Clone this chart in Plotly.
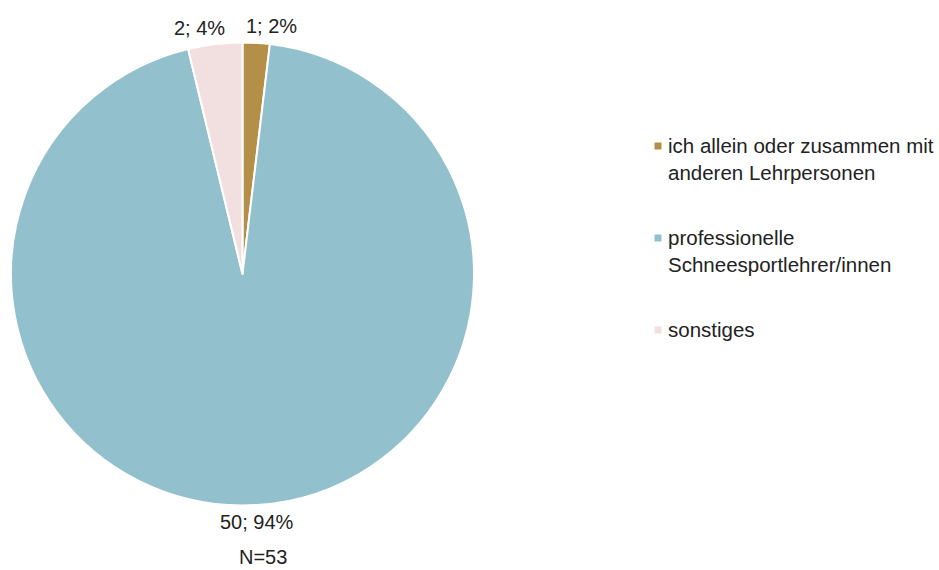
import math
import plotly.graph_objects as go

# Wer leitet den Schneesportunterricht?
categories = [
    "ich allein oder zusammen mit<br>anderen Lehrpersonen",
    "professionelle<br>Schneesportlehrer/innen",
    "sonstiges",
]
counts = [1, 50, 2]
colors = ["#B38F47", "#92C0CC", "#F2E0E0"]
total_label = "N=53"

W, H = 939, 570
FONT = "Liberation Sans, Arial, sans-serif"
TEXT_COLOR = "#222222"
FS = 20

# pie placement in pixels
cx, cy, r = 242.5, 274.0, 231.5
label_r = 248     # radius at which the value labels are centred
label_sep = 72    # minimum horizontal distance between neighbouring top labels

fig = go.Figure()
fig.add_trace(go.Pie(
    labels=categories,
    values=counts,
    sort=False,
    direction="clockwise",
    rotation=0,
    marker=dict(colors=colors, line=dict(color="white", width=2)),
    textinfo="none",
    domain=dict(x=[(cx - r) / W, (cx + r) / W],
                y=[1 - (cy + r) / H, 1 - (cy - r) / H]),
    showlegend=False,
    hoverinfo="label+value+percent",
))

# value labels "n; p%" outside each slice, at the slice's mid-angle
total = sum(counts)
labels_pos = []
start = 0.0
for n in counts:
    frac = n / total
    mid = (start + frac / 2) * 2 * math.pi  # clockwise from 12 o'clock
    start += frac
    labels_pos.append([cx + label_r * math.sin(mid), cy - label_r * math.cos(mid),
                       f"{n}; {round(frac * 100)}%"])

# spread labels that sit on the same row so they do not collide
for i in range(len(labels_pos)):
    for j in range(i + 1, len(labels_pos)):
        a, b = labels_pos[i], labels_pos[j]
        if abs(a[1] - b[1]) < FS and abs(a[0] - b[0]) < label_sep:
            push = (label_sep - abs(a[0] - b[0])) / 2
            if a[0] >= b[0]:
                a[0] += push
                b[0] -= push
            else:
                a[0] -= push
                b[0] += push

for lx, ly, txt in labels_pos:
    fig.add_annotation(xref="paper", yref="paper",
                       x=lx / W, y=1 - ly / H, xanchor="center", yanchor="middle",
                       text=txt, showarrow=False,
                       font=dict(family=FONT, size=FS, color=TEXT_COLOR))

# legend drawn as square markers with wrapped labels
legend_x = 658
legend_y = [146, 238, 330]
sq = 7
for label, color, ly in zip(categories, colors, legend_y):
    fig.add_shape(type="rect", xref="paper", yref="paper",
                  x0=(legend_x - sq / 2) / W, x1=(legend_x + sq / 2) / W,
                  y0=1 - (ly + sq / 2) / H, y1=1 - (ly - sq / 2) / H,
                  fillcolor=color, line=dict(width=0))
    fig.add_annotation(xref="paper", yref="paper",
                       x=(legend_x + 8) / W, y=1 - (ly - 14) / H,
                       xanchor="left", yanchor="top", align="left",
                       text=label, showarrow=False,
                       font=dict(family=FONT, size=FS + 0.5, color=TEXT_COLOR))

fig.add_annotation(xref="paper", yref="paper",
                   x=263 / W, y=1 - 557 / H, xanchor="center", yanchor="middle",
                   text=total_label, showarrow=False,
                   font=dict(family=FONT, size=FS, color=TEXT_COLOR))

fig.update_layout(
    width=W, height=H,
    margin=dict(l=0, r=0, t=0, b=0),
    paper_bgcolor="white",
    plot_bgcolor="white",
)

fig.write_html("out.html")
